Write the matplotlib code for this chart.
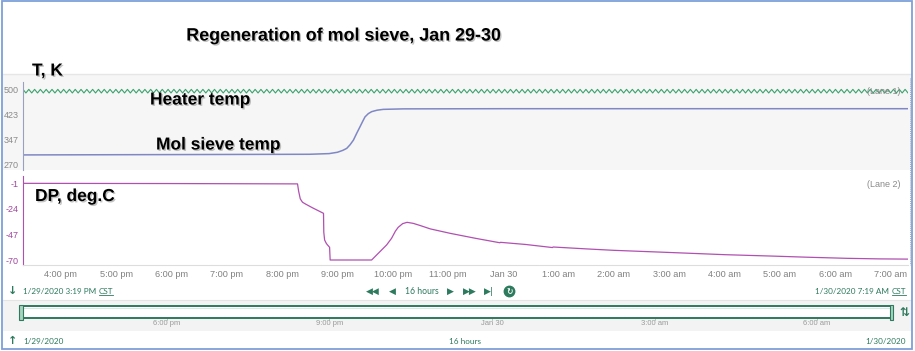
import numpy as np
import matplotlib
matplotlib.use("Agg")
import matplotlib.pyplot as plt
import matplotlib.patheffects as pe
from matplotlib.patches import Rectangle
from matplotlib.lines import Line2D

# ---------------- data ----------------
t_start, t_end = 15.317, 31.317          # hours since 0:00 Jan 29 (3:19 PM -> 7:19 AM)

heater_low, heater_high = 488, 499       # K, thermostat cycling band
heater_cycle_min = 6.3                   # minutes per on/off cycle

ms_hours = [15.32, 18.0, 20.5, 20.85, 21.0, 21.1, 21.17, 21.23, 21.29, 21.35,
            21.41, 21.46, 21.50, 21.56, 21.62, 21.72, 21.83, 22.2, 24.0, 31.32]
ms_temp = [299, 300, 301, 303, 307, 313, 319, 330, 344, 365,
           385, 402, 415, 425, 431, 435.5, 438, 439.5, 440, 440]

dp_hours = [15.32, 18.0, 20.28, 20.30, 20.33, 20.37, 20.42, 20.55, 20.75, 20.755,
            20.77, 20.80, 20.815, 20.86, 20.87, 21.20, 21.62, 21.66, 21.71, 21.80,
            21.89, 21.98, 22.05, 22.10, 22.18, 22.26, 22.37, 22.50, 22.68, 23.04,
            23.50, 23.94, 23.95, 24.40, 24.89, 24.90, 25.50, 26.00, 26.89, 27.50,
            28.00, 28.88, 29.50, 30.22, 30.80, 31.32]
dp_vals = [-1, -1.2, -1.5, -8, -15, -18, -19.5, -23, -28, -45,
           -52, -55, -56, -58.6, -70, -70, -70, -68, -65.5, -61,
           -56.5, -50.5, -44, -40.6, -37.3, -36.1, -37, -39, -42, -46,
           -50.5, -54.5, -54.1, -56, -58.8, -58.3, -60, -61.3, -63, -64.2,
           -65.2, -66.5, -67.5, -68.5, -69, -69.2]

lane1_ticks = [270, 347, 423, 500]
lane2_ticks = [-1, -24, -47, -70]
time_ticks = list(range(16, 32))
time_labels = ['4:00 pm', '5:00 pm', '6:00 pm', '7:00 pm', '8:00 pm', '9:00 pm',
               '10:00 pm', '11:00 pm', 'Jan 30', '1:00 am', '2:00 am', '3:00 am',
               '4:00 am', '5:00 am', '6:00 am', '7:00 am']
ov_ticks = [18, 21, 24, 27, 30]
ov_labels = ['6:00 pm', '9:00 pm', 'Jan 30', '3:00 am', '6:00 am']

# ---------------- layout ----------------
W, H = 915, 351
fig = plt.figure(figsize=(W / 100, H / 100), dpi=100)
fig.patch.set_facecolor('white')

def fx(x):
    return x / W

def fy(y):
    return 1 - y / H

def ax_px(x0, y0, x1, y1):
    return fig.add_axes([x0 / W, 1 - y1 / H, (x1 - x0) / W, (y1 - y0) / H])

GREEN_TXT = '#2d7a5e'
HEAT_C = '#3aa36e'
MS_C = '#7f88c4'
DP_C = '#b050b0'
DP_TICK = '#a0479f'
GRAY_TXT = '#8a8a8a'

# lane 1 background band (incl. label area)
fig.add_artist(Rectangle((fx(3), fy(170)), fx(908), (170 - 74) / H,
                         transform=fig.transFigure, facecolor='#f6f6f6',
                         edgecolor='none', zorder=0))
fig.add_artist(Line2D([fx(3), fx(911)], [fy(74), fy(74)], color='#e6e6e6',
                      lw=1.0, transform=fig.transFigure))
# overview band
fig.add_artist(Rectangle((fx(3), fy(331)), fx(908), (331 - 300) / H,
                         transform=fig.transFigure, facecolor='#f3f3f3',
                         edgecolor='none', zorder=0))
fig.add_artist(Line2D([fx(3), fx(911)], [fy(300), fy(300)], color='#e4e4e4',
                      lw=0.8, transform=fig.transFigure))

# ---------------- lane 1 ----------------
ax1 = ax_px(23, 81.5, 908, 170)
ax1.set_facecolor('#f6f6f6')
n_half = int(round((t_end - t_start) * 60 / (heater_cycle_min / 2)))
h_t = np.linspace(t_start, t_end, n_half + 1)
h_v = np.where(np.arange(n_half + 1) % 2 == 0, heater_high, heater_low)
ax1.plot(h_t, h_v, color=HEAT_C, lw=0.8)
ax1.plot(ms_hours, ms_temp, color=MS_C, lw=1.1)
ax1.set_xlim(t_start, t_end)
ax1.set_ylim(253, 523)
ax1.set_yticks(lane1_ticks)
ax1.set_yticklabels([str(v) for v in lane1_ticks])
ax1.tick_params(axis='y', length=0, pad=3, labelsize=6.5, labelcolor=GRAY_TXT)
ax1.set_xticks([])
for s in ['top', 'right', 'bottom']:
    ax1.spines[s].set_visible(False)
ax1.spines['left'].set_color('#9aa0c0')
ax1.spines['left'].set_linewidth(0.8)
for lab in ax1.get_yticklabels():
    lab.set_family('Liberation Sans')
ax1.text(0.992, 0.89, '(Lane 1)', transform=ax1.transAxes, ha='right', va='center',
         fontsize=6.5, color=GRAY_TXT, family='Liberation Sans')

# ---------------- lane 2 ----------------
ax2 = ax_px(23, 176, 908, 264.5)
ax2.set_facecolor('white')
ax2.plot(dp_hours, dp_vals, color=DP_C, lw=0.9)
ax2.set_xlim(t_start, t_end)
ax2.set_ylim(-74.05, 5.6)
ax2.set_yticks(lane2_ticks)
ax2.set_yticklabels([str(v) for v in lane2_ticks])
ax2.tick_params(axis='y', length=0, pad=3, labelsize=6.5, labelcolor=DP_TICK)
ax2.set_xticks(time_ticks)
ax2.set_xticklabels(time_labels)
ax2.tick_params(axis='x', length=0, pad=4, labelsize=6.6, labelcolor='#808080')
for lab in ax2.get_xticklabels() + ax2.get_yticklabels():
    lab.set_family('Liberation Sans')
ax2.spines['top'].set_visible(False)
ax2.spines['right'].set_visible(False)
ax2.spines['left'].set_color(DP_C)
ax2.spines['left'].set_linewidth(0.8)
ax2.spines['bottom'].set_color('#dddddd')
ax2.spines['bottom'].set_linewidth(0.8)
ax2.text(0.992, 0.90, '(Lane 2)', transform=ax2.transAxes, ha='right', va='center',
         fontsize=6.5, color=GRAY_TXT, family='Liberation Sans')

# dotted right lane boundary
fig.add_artist(Line2D([fx(909.5), fx(909.5)], [fy(78), fy(265)], color='#aaaaaa',
                      lw=0.7, ls=(0, (1, 1)), transform=fig.transFigure))

# ---------------- annotation texts ----------------
shadow = [pe.SimplePatchShadow(offset=(1, -1), shadow_rgbFace='#888888', alpha=0.5),
          pe.Normal()]
bold_kw = dict(fontsize=12.5, fontweight='bold', family='Liberation Sans',
               color='black', va='center', path_effects=shadow)
fig.text(fx(344), fy(36), 'Regeneration of mol sieve, Jan 29-30', ha='center',
         **{**bold_kw, 'fontsize': 12.9})
fig.text(fx(32), fy(71), 'T, K', ha='left', **bold_kw)
fig.text(fx(150), fy(100), 'Heater temp', ha='left', **bold_kw)
fig.text(fx(156), fy(145), 'Mol sieve temp', ha='left', **bold_kw)
fig.text(fx(35), fy(196.5), 'DP, deg.C', ha='left', **bold_kw)

# ---------------- navigation row ----------------
small_kw = dict(fontsize=5.9, color=GREEN_TXT, family='Lato', va='center')
fig.canvas.draw()
renderer = fig.canvas.get_renderer()

fig.text(fx(13), fy(291), '↓', ha='center', fontsize=8, fontweight='bold',
         color=GREEN_TXT, va='center', family='DejaVu Sans')
tl = fig.text(fx(23), fy(291), '1/29/2020 3:19 PM', ha='left', **small_kw)
bb = tl.get_window_extent(renderer)
tc = fig.text((bb.x1 + 2.5) / W, fy(291), 'CST', ha='left', **small_kw)
bc = tc.get_window_extent(renderer)
fig.add_artist(Line2D([bc.x0 / W, bc.x1 / W], [(bc.y0 - 0.5) / H, (bc.y0 - 0.5) / H],
                      color=GREEN_TXT, lw=0.6, transform=fig.transFigure))

tcr = fig.text(fx(906), fy(291), 'CST', ha='right', **small_kw)
bcr = tcr.get_window_extent(renderer)
fig.add_artist(Line2D([bcr.x0 / W, bcr.x1 / W], [(bcr.y0 - 0.5) / H, (bcr.y0 - 0.5) / H],
                      color=GREEN_TXT, lw=0.6, transform=fig.transFigure))
fig.text((bcr.x0 - 2.5) / W, fy(291), '1/30/2020 7:19 AM', ha='right', **small_kw)

sym_kw = dict(fontsize=6.5, color=GREEN_TXT, family='DejaVu Sans', va='center', ha='center')
fig.text(fx(373), fy(291), '◀◀', **sym_kw)
fig.text(fx(392.5), fy(291), '◀', **sym_kw)
fig.text(fx(421.7), fy(291), '16 hours', ha='center', fontsize=6.2, color=GREEN_TXT,
         family='Lato', va='center')
fig.text(fx(450.7), fy(291), '▶', **sym_kw)
fig.text(fx(470), fy(291), '▶▶', **sym_kw)
fig.text(fx(489.3), fy(291), '▶|', **sym_kw)
fig.add_artist(Line2D([fx(509.3)], [fy(291)], marker='o', markersize=7.5,
                      color=GREEN_TXT, transform=fig.transFigure))
fig.text(fx(509.3), fy(291.3), '↻', ha='center', va='center', fontsize=5.5,
         color='white', fontweight='bold', family='DejaVu Sans')

# ---------------- overview bar ----------------
ax_ov = ax_px(21.3, 300, 888.5, 331)
ax_ov.set_xlim(t_start, t_end)
ax_ov.set_ylim(0, 1)
ax_ov.axis('off')
fig.add_artist(Rectangle((fx(21), fy(317.5)), (892 - 21) / W, (317.5 - 306) / H,
                         transform=fig.transFigure, facecolor='white',
                         edgecolor=GREEN_TXT, lw=1.4, zorder=3))
fig.add_artist(Line2D([fx(22), fx(891)], [fy(308), fy(308)], color='#cfe5da',
                      lw=0.6, transform=fig.transFigure, zorder=4))
for xh in (21, 891.5):
    fig.add_artist(Rectangle((fx(xh - 1.8), fy(319.5)), 3.6 / W, 15 / H,
                             transform=fig.transFigure, facecolor='#a9d3bf',
                             edgecolor=GREEN_TXT, lw=0.8, zorder=5))
fig.text(fx(904), fy(312), '⇅', ha='center', va='center', fontsize=8.5,
         fontweight='bold', color=GREEN_TXT, family='DejaVu Sans')
for h, lab in zip(ov_ticks, ov_labels):
    ax_ov.plot([h, h], [0.42, 0.36], color='#bbbbbb', lw=0.6, clip_on=False)
    ax_ov.text(h, 0.23, lab, ha='center', va='center', fontsize=5.5,
               color='#9a9a9a', family='Liberation Sans')

# bottom row
fig.text(fx(13), fy(341), '↑', ha='center', fontsize=8, fontweight='bold',
         color=GREEN_TXT, va='center', family='DejaVu Sans')
fig.text(fx(23), fy(341), '1/29/2020', ha='left', **small_kw)
fig.text(fx(465.5), fy(341), '16 hours', ha='center', **small_kw)
fig.text(fx(906), fy(341), '1/30/2020', ha='right', **small_kw)

# outer frame
fig.add_artist(Rectangle((fx(2), fy(349)), 910 / W, 348 / H, transform=fig.transFigure,
                         fill=False, edgecolor='#7d9fd8', lw=1.3, zorder=10))

fig.savefig('out.png', dpi=100, facecolor='white')
